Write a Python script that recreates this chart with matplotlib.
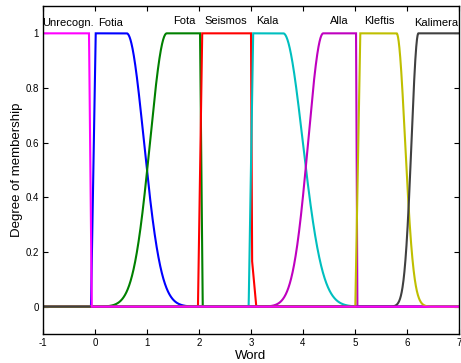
import numpy as np
import matplotlib
matplotlib.use("Agg")
import matplotlib.pyplot as plt

plt.rcParams['font.family'] = ['Liberation Sans', 'DejaVu Sans']
plt.rcParams['axes.unicode_minus'] = False

# Membership functions
names = ["Fotia", "Fota", "Seismos", "Kala", "Alla", "Kleftis", "Kalimera", "Unrecogn."]
colors = [(0, 0, 1), (0, 0.5, 0), (1, 0, 0), (0, 0.75, 0.75), (0.75, 0, 0.75),
          (0.75, 0.75, 0), (0.25, 0.25, 0.25), (1, 0, 1)]
# plateau where membership = 1
plateau_start = [0.013, 1.38, 2.06, 3.04, 4.39, 5.10, 6.22, -1.0]
plateau_end = [0.61, 2.02, 3.00, 3.62, 5.02, 5.80, 7.0, -0.115]
# left edge: "lin" ramp starting at left_foot, or "gauss" with sigma left_sigma
left_kind = ["lin", "gauss", "lin", "lin", "gauss", "lin", "gauss", "none"]
left_foot = [-0.077, None, 1.98, 2.955, None, 5.006, None, None]
left_sigma = [None, 0.32, None, None, 0.29, None, 0.133, None]
# right edge
right_kind = ["gauss", "lin", "lin2", "gauss", "lin", "gauss", "none", "lin"]
right_foot = [None, 2.07, 3.10, None, 5.045, None, None, -0.064]
right_sigma = [0.33, None, None, 0.374, None, 0.163, None, None]
red_knee = (3.02, 0.17)

# label positions
label_x = [0.29, 1.71, 2.52, 3.31, 4.69, 5.46, 6.56, -0.52]
label_y = [1.028, 1.033, 1.033, 1.033, 1.033, 1.033, 1.028, 1.028]

xticks = [-1, 0, 1, 2, 3, 4, 5, 6, 7]
yticks = [0, 0.2, 0.4, 0.6, 0.8, 1]
ytick_labels = ["0", "0.2", "0.4", "0.6", "0.8", "1"]

x = np.linspace(-1, 7, 4001)


def mf(i):
    y = np.ones_like(x)
    a, b = plateau_start[i], plateau_end[i]
    lk = left_kind[i]
    if lk == "lin":
        f = left_foot[i]
        y = np.where(x < a, np.clip((x - f) / (a - f), 0, 1), y)
    elif lk == "gauss":
        s = left_sigma[i]
        y = np.where(x < a, np.exp(-(x - a) ** 2 / (2 * s ** 2)), y)
    rk = right_kind[i]
    if rk == "lin":
        f = right_foot[i]
        y = np.where(x > b, np.clip((f - x) / (f - b), 0, 1), y)
    elif rk == "lin2":
        f = right_foot[i]
        r = np.interp(x, [b, red_knee[0], f], [1, red_knee[1], 0])
        y = np.where(x > b, r, y)
    elif rk == "gauss":
        s = right_sigma[i]
        y = np.where(x > b, np.exp(-(x - b) ** 2 / (2 * s ** 2)), y)
    return y


fig = plt.figure(figsize=(4.61, 3.63), dpi=100)
ax = fig.add_axes([43 / 461, 29 / 363, 416 / 461, 328 / 363])

for i in range(len(names)):
    ax.plot(x, mf(i), color=colors[i], lw=1.5, solid_joinstyle='miter')
    ax.text(label_x[i], label_y[i], names[i], ha='center', va='baseline', fontsize=8)

ax.set_xlim(-1, 7)
ax.set_ylim(-0.1, 1.1)
ax.set_xticks(xticks)
ax.set_yticks(yticks)
ax.set_yticklabels(ytick_labels)
ax.tick_params(direction='in', top=True, right=True, labelsize=7, length=3.5, width=0.8, pad=3)
for sp in ax.spines.values():
    sp.set_linewidth(1.0)
ax.set_xlabel("Word", fontsize=9.5, labelpad=1)
ax.set_ylabel("Degree of membership", fontsize=9.5, labelpad=2)

fig.savefig("out.png", dpi=100)
